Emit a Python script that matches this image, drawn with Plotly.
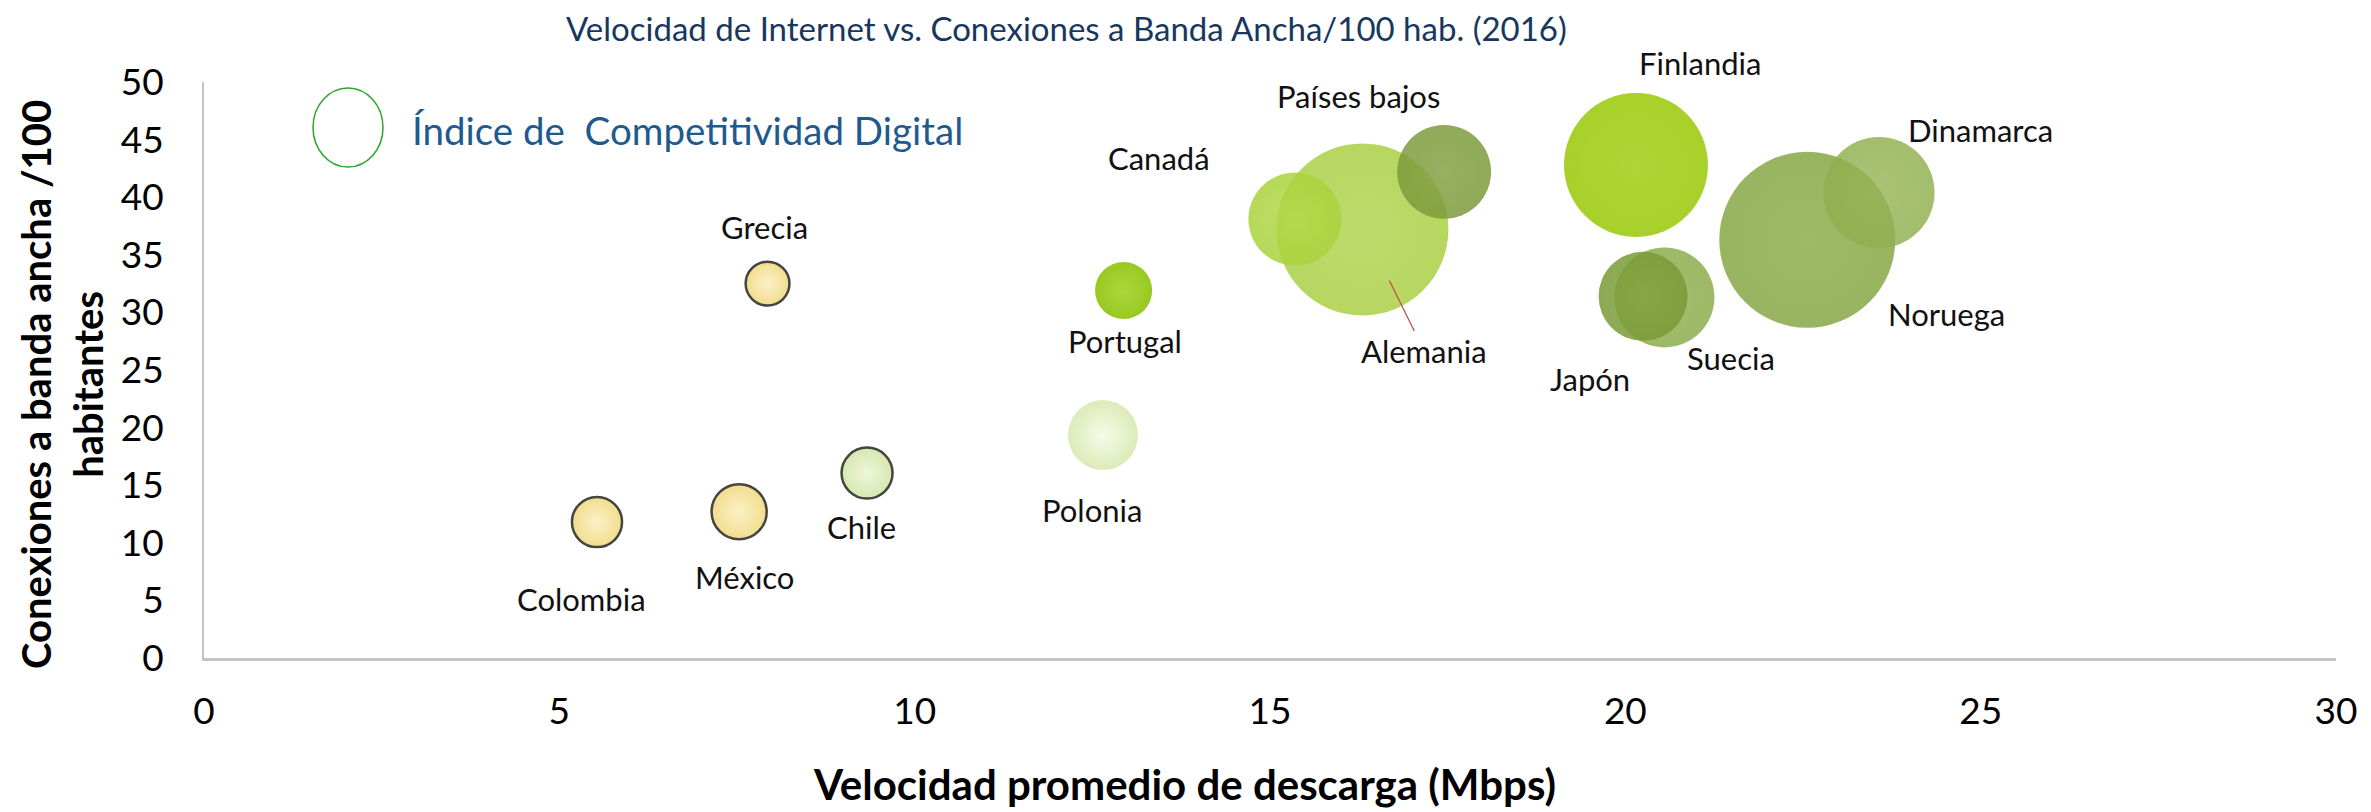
import plotly.graph_objects as go

# ---------------- data ----------------
paises = ["Colombia", "México", "Chile", "Grecia", "Portugal", "Polonia", "Canadá",
          "Alemania", "Países bajos", "Finlandia", "Japón", "Suecia", "Noruega", "Dinamarca"]
velocidad = [5.53, 7.53, 9.33, 7.93, 12.94, 12.65, 15.35,
             16.3, 17.45, 20.15, 20.25, 20.55, 22.56, 23.57]
conexiones = [11.8, 12.7, 16.05, 32.5, 31.9, 19.35, 38.1,
              37.2, 42.2, 42.8, 31.4, 31.3, 36.3, 40.4]
indice = [8.1, 9.8, 8.4, 6.2, 10.5, 15.8, 27.9,
          95.5, 28.5, 66.9, 25.6, 32.3, 100.0, 39.8]
x_ticks = [0, 5, 10, 15, 20, 25, 30]
y_ticks = [0, 5, 10, 15, 20, 25, 30, 35, 40, 45, 50]

# ---------------- styles ----------------
fill = {
    "Colombia": "#F2DD8E", "México": "#F2DD8E", "Grecia": "#F2DD8E",
    "Chile": "#D6E8B0", "Polonia": "#DCEBB8", "Portugal": "#98C920",
    "Canadá": "#A9D23C", "Alemania": "#AED24E", "Países bajos": "#7D9B3C",
    "Finlandia": "#A8D02A", "Japón": "#7A9A36", "Suecia": "#8CAD4C",
    "Noruega": "#8DAC4F", "Dinamarca": "#8FAF4E",
}
center = {
    "Colombia": "#FBF1C6", "México": "#FBF1C6", "Grecia": "#FBF1C6",
    "Chile": "#EEF6DA", "Polonia": "#F6FBE8", "Portugal": "#ADD63E",
    "Canadá": "#B4D94C", "Alemania": "#B6D75C", "Países bajos": "#85A244",
    "Finlandia": "#B0D535", "Japón": "#82A13E", "Suecia": "#93B254",
    "Noruega": "#93B256", "Dinamarca": "#97B556",
}
alpha = {"Canadá": 0.85, "Alemania": 0.9, "Países bajos": 0.85, "Japón": 0.85,
         "Suecia": 0.85, "Noruega": 0.9, "Dinamarca": 0.82}
bordered = {"Colombia", "México", "Grecia", "Chile"}

# label offsets in px (dx right, dy down) from bubble centre
label_off = {
    "Colombia": (-16, 77), "México": (5, 65), "Chile": (-6, 54), "Grecia": (-3, -57),
    "Portugal": (1, 50), "Polonia": (-11, 75), "Canadá": (-136, -61),
    "Países bajos": (-86, -76), "Finlandia": (64, -102), "Dinamarca": (101, -63),
    "Noruega": (139, 74), "Suecia": (67, 61), "Japón": (-53, 83),
}

W, H = 2371, 812
L, R, T, B = 204, 35, 82, 154
PW, PH = W - L - R, H - T - B
FONT = "Lato"
LABEL_SIZE = 31


def px_x(px):
    return (px - L) / PW


def px_y(py):
    return (H - B - py) / PH


MAX_DIAM = 176
sizeref = 2.0 * max(indice) / MAX_DIAM ** 2

order = sorted(range(len(paises)), key=lambda i: -indice[i])

fig = go.Figure()
for i in order:
    p = paises[i]
    fig.add_trace(go.Scatter(
        x=[velocidad[i]], y=[conexiones[i]], mode="markers", name=p,
        showlegend=False, hoverinfo="text", text=[p],
        marker=dict(
            size=[indice[i]], sizemode="area", sizeref=sizeref,
            color=fill[p], opacity=alpha.get(p, 1.0),
            gradient=dict(type="radial", color=center[p]),
            line=dict(color="#45453F", width=2.5) if p in bordered else dict(width=0),
        ),
    ))

annotations = []
for p, (dx, dy) in label_off.items():
    i = paises.index(p)
    annotations.append(dict(
        x=velocidad[i], y=conexiones[i], xref="x", yref="y",
        text=p, showarrow=False, xshift=dx, yshift=-dy,
        font=dict(family=FONT, size=LABEL_SIZE, color="#111111"),
    ))

ia = paises.index("Alemania")
annotations.append(dict(
    x=velocidad[ia], y=conexiones[ia], xref="x", yref="y",
    text="Alemania", showarrow=True, arrowhead=0, arrowwidth=1.3,
    arrowcolor="#C0504D", xshift=27, yshift=-51, ax=35, ay=71, standoff=0,
    font=dict(family=FONT, size=LABEL_SIZE, color="#111111"),
))

# title
annotations.append(dict(
    x=px_x(1066), y=px_y(28), xref="paper", yref="paper",
    text="Velocidad de Internet vs. Conexiones a Banda Ancha/100 hab. (2016)",
    showarrow=False, xanchor="center", yanchor="middle",
    font=dict(family=FONT, size=33, color="#17375E"),
))
# x axis title
annotations.append(dict(
    x=px_x(1184), y=px_y(784), xref="paper", yref="paper",
    text="<b>Velocidad promedio de descarga (Mbps)</b>",
    showarrow=False, xanchor="center", yanchor="middle",
    font=dict(family=FONT, size=42, color="#000000"),
))
# y axis title
annotations.append(dict(
    x=px_x(62), y=px_y(385), xref="paper", yref="paper",
    text="<b>Conexiones a banda ancha /100<br>habitantes</b>",
    showarrow=False, xanchor="center", yanchor="middle", textangle=-90,
    font=dict(family=FONT, size=40, color="#000000"),
))
# legend text
annotations.append(dict(
    x=px_x(410), y=px_y(130), xref="paper", yref="paper",
    text="Índice de  Competitividad Digital",
    showarrow=False, xanchor="left", yanchor="middle",
    font=dict(family=FONT, size=38.5, color="#1F5A8F"),
))

shapes = [dict(
    type="circle", xref="paper", yref="paper",
    x0=px_x(313), x1=px_x(383), y0=px_y(167), y1=px_y(88),
    line=dict(color="#2FA52F", width=1.5), fillcolor="rgba(0,0,0,0)",
)]

fig.update_layout(
    width=W, height=H,
    margin=dict(l=L, r=R, t=T, b=B, autoexpand=False),
    paper_bgcolor="white", plot_bgcolor="white",
    font=dict(family=FONT, color="#000000"),
    xaxis=dict(range=[0, 30], tickvals=x_ticks, showgrid=False, zeroline=False,
               showline=True, linecolor="#C4C4C4", linewidth=3,
               ticks="", ticklabelstandoff=19,
               tickfont=dict(family=FONT, size=37, color="#000000")),
    yaxis=dict(range=[0, 50], tickvals=y_ticks, showgrid=False, zeroline=False,
               showline=True, linecolor="#C4C4C4", linewidth=2,
               ticks="", ticklabelstandoff=31,
               tickfont=dict(family=FONT, size=37, color="#000000")),
    annotations=annotations, shapes=shapes,
)

fig.write_html("out.html", config={"displayModeBar": False},
               post_script="document.body.style.margin='0';")
